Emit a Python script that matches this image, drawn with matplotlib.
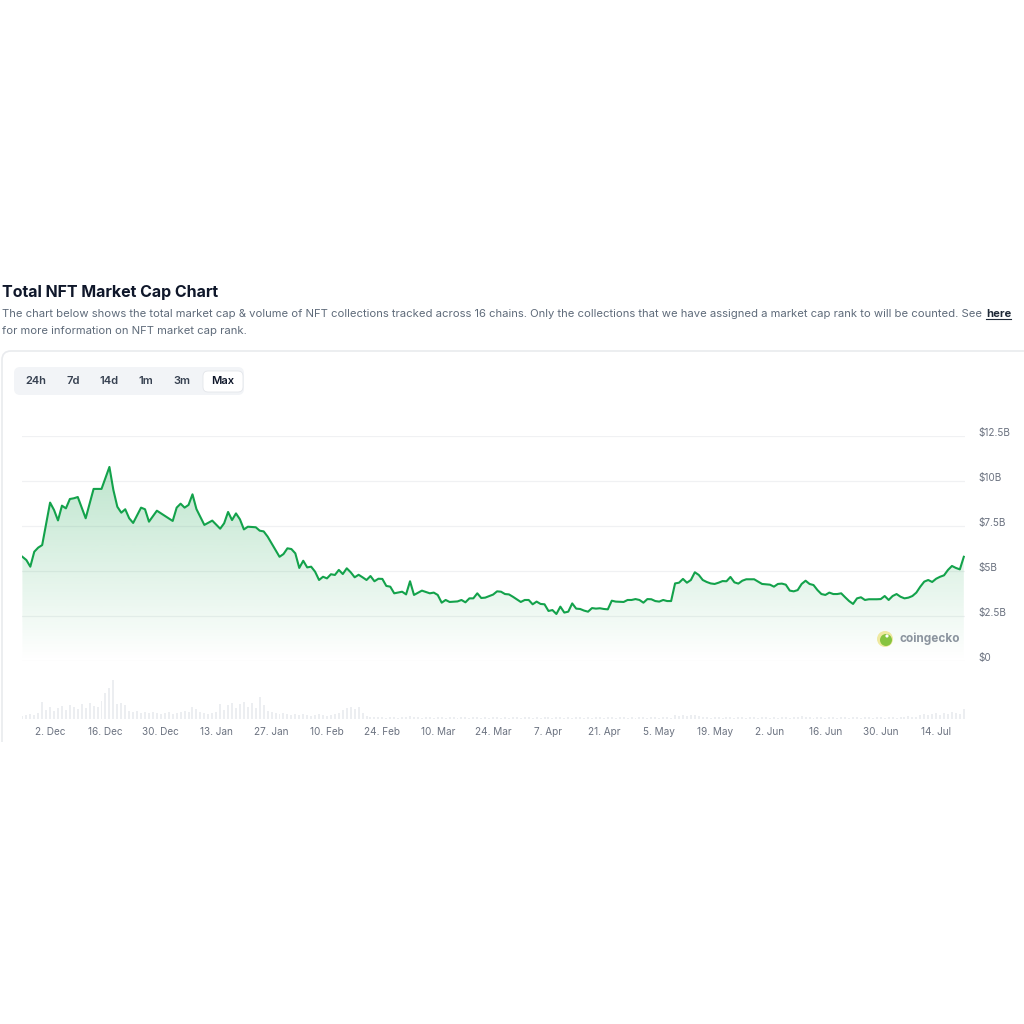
import datetime as dt
import numpy as np
import matplotlib
matplotlib.use('Agg')
import matplotlib.pyplot as plt
import matplotlib.dates as mdates
from matplotlib.patches import FancyBboxPatch, Circle, PathPatch
from matplotlib.path import Path
from matplotlib.lines import Line2D
from matplotlib.colors import to_rgb

plt.rcParams['font.family'] = ['Inter', 'DejaVu Sans']

# --- data (market cap in $B, volume in arbitrary units) ---
start_date = dt.date(2024, 11, 25)

line_day = [0, 1, 2, 3, 4, 5, 7, 8, 9, 10,
            11, 12, 13, 14, 16, 18, 20, 22, 23, 24,
            25, 26, 27, 28, 30, 31, 32, 34, 38, 39,
            40, 41, 42, 43, 44, 46, 48, 50, 51, 52,
            53, 54, 55, 56, 57, 59, 60, 61, 62, 65,
            66, 67, 68, 69, 70, 71, 72, 73, 74, 75,
            76, 77, 78, 79, 80, 81, 82, 83, 84, 85,
            86, 87, 88, 89, 90, 91, 92, 93, 94, 96,
            97, 98, 99, 101, 103, 104, 105, 106, 107, 108,
            110, 111, 112, 113, 114, 115, 116, 117, 119, 120,
            121, 122, 123, 124, 126, 127, 128, 129, 130, 131,
            132, 133, 134, 135, 136, 137, 138, 139, 140, 141,
            142, 143, 144, 145, 146, 147, 148, 149, 150, 152,
            153, 154, 155, 156, 157, 158, 159, 160, 161, 162,
            163, 164, 165, 166, 167, 168, 169, 170, 171, 172,
            173, 174, 175, 176, 177, 178, 179, 180, 181, 182,
            183, 185, 186, 187, 188, 189, 190, 191, 192, 193,
            194, 195, 196, 197, 198, 199, 200, 201, 202, 203,
            204, 205, 206, 207, 208, 209, 210, 211, 212, 213,
            214, 216, 217, 218, 219, 220, 221, 222, 223, 224,
            225, 226, 227, 228, 229, 230, 231, 232, 233, 234,
            235, 236, 237, 238]

market_cap = [5.79, 5.61, 5.24, 6.07, 6.30, 6.44, 8.80, 8.39, 7.81, 8.63,
              8.48, 9.00, 9.04, 9.11, 7.93, 9.56, 9.56, 10.78, 9.50, 8.57,
              8.24, 8.43, 7.93, 7.67, 8.52, 8.43, 7.74, 8.35, 7.78, 8.52,
              8.74, 8.52, 8.67, 9.26, 8.44, 7.56, 7.80, 7.35, 7.65, 8.28,
              7.83, 8.20, 7.87, 7.31, 7.46, 7.43, 7.24, 7.20, 6.91, 5.79,
              5.94, 6.26, 6.22, 5.98, 5.17, 5.57, 5.20, 5.24, 4.96, 4.50,
              4.68, 4.59, 4.82, 4.78, 5.06, 4.83, 5.15, 4.93, 4.65, 4.79,
              4.65, 4.50, 4.72, 4.43, 4.57, 4.56, 4.17, 4.13, 3.76, 3.85,
              3.70, 4.43, 3.67, 3.91, 3.76, 3.80, 3.67, 3.24, 3.39, 3.28,
              3.31, 3.39, 3.26, 3.48, 3.48, 3.76, 3.50, 3.52, 3.69, 3.87,
              3.85, 3.72, 3.70, 3.57, 3.28, 3.39, 3.39, 3.15, 3.30, 3.17,
              3.15, 2.78, 2.83, 2.61, 3.02, 2.69, 2.74, 3.20, 2.91, 2.89,
              2.80, 2.74, 2.94, 2.91, 2.93, 2.89, 2.87, 3.35, 3.30, 3.28,
              3.39, 3.39, 3.44, 3.39, 3.24, 3.44, 3.43, 3.33, 3.30, 3.39,
              3.33, 3.33, 4.31, 4.35, 4.56, 4.35, 4.50, 4.93, 4.78, 4.50,
              4.39, 4.31, 4.28, 4.35, 4.44, 4.43, 4.67, 4.37, 4.30, 4.46,
              4.54, 4.54, 4.41, 4.28, 4.26, 4.24, 4.13, 4.28, 4.30, 4.24,
              3.91, 3.87, 3.94, 4.28, 4.46, 4.28, 4.22, 3.94, 3.72, 3.67,
              3.80, 3.72, 3.72, 3.76, 3.54, 3.33, 3.17, 3.48, 3.54, 3.39,
              3.43, 3.43, 3.44, 3.61, 3.39, 3.61, 3.72, 3.57, 3.48, 3.52,
              3.61, 3.80, 4.13, 4.41, 4.50, 4.39, 4.57, 4.68, 4.76, 5.06,
              5.28, 5.17, 5.09, 5.79]

# one bar per day from start_date
volume = [3, 4, 5, 4, 6, 17, 9, 12, 8, 11,
          13, 9, 14, 12, 10, 15, 11, 16, 13, 12,
          18, 25, 30, 38, 15, 16, 14, 8, 7, 8,
          6, 7, 6, 7, 6, 5, 6, 7, 5, 6,
          7, 8, 7, 12, 10, 7, 6, 5, 6, 7,
          15, 9, 14, 16, 11, 15, 17, 12, 16, 11,
          22, 14, 8, 7, 6, 5, 6, 5, 4, 5,
          4, 5, 4, 3, 4, 5, 4, 3, 4, 5,
          6, 9, 11, 12, 10, 12, 6, 3, 2, 2,
          2, 2, 1, 2, 2, 1, 2, 2, 3, 2,
          2, 1, 2, 2, 1, 2, 2, 1, 2, 2,
          1, 2, 2, 1, 2, 2, 1, 2, 1, 2,
          2, 1, 2, 1, 2, 2, 1, 2, 2, 1,
          2, 1, 2, 2, 1, 2, 2, 1, 2, 1,
          2, 2, 1, 2, 1, 2, 2, 1, 2, 2,
          1, 2, 2, 1, 2, 1, 2, 2, 1, 2,
          2, 1, 2, 2, 1, 4, 3, 4, 3, 4,
          4, 3, 2, 2, 1, 2, 2, 1, 2, 2,
          1, 2, 2, 1, 2, 2, 1, 2, 2, 1,
          2, 1, 2, 2, 1, 2, 2, 3, 2, 2,
          1, 2, 2, 1, 2, 2, 1, 2, 2, 1,
          2, 2, 1, 2, 2, 1, 2, 2, 1, 2,
          2, 1, 2, 2, 3, 2, 2, 4, 5, 4,
          5, 6, 4, 6, 5, 7, 6, 5, 10]

y_ticks = [0, 2.5, 5, 7.5, 10, 12.5]
y_labels = [r'\$0', r'\$2.5B', r'\$5B', r'\$7.5B', r'\$10B', r'\$12.5B']
x_tick_days = [7 + 14 * k for k in range(17)]   # 2. Dec ... 14. Jul
range_buttons = ['24h', '7d', '14d', '1m', '3m', 'Max']

title = 'Total NFT Market Cap Chart'
subtitle_1 = ('The chart below shows the total market cap & volume of NFT collections tracked '
              'across 16 chains. Only the collections that we have assigned a market cap rank '
              'to will be counted. See')
subtitle_2 = 'for more information on NFT market cap rank.'

# --- layout helpers (pixel coords -> figure fraction) ---
W = H = 1024
def fx(px): return px / W
def fy(py): return 1 - py / H

GREEN = '#13a24b'
GREY_TXT = '#6b7280'
SUB_TXT = '#5f6b7a'

fig = plt.figure(figsize=(10.24, 10.24), dpi=100)
fig.patch.set_facecolor('white')

x0 = mdates.date2num(start_date)
line_x = x0 + np.array(line_day)
vol_x = x0 + np.arange(len(volume))
xlim = (x0 - 0.1, x0 + 238.3)

# card border (top + left with rounded corner)
card = Path([(fx(2), fy(742)), (fx(2), fy(360)), (fx(2), fy(351)), (fx(11), fy(351)), (fx(1030), fy(351))],
            [Path.MOVETO, Path.LINETO, Path.CURVE3, Path.CURVE3, Path.LINETO])
fig.add_artist(PathPatch(card, transform=fig.transFigure, fill=False, ec='#e9ebee', lw=1.2))

# titles
fig.text(fx(2), fy(292), title, fontsize=11.5, weight='bold', color='#0f172a', va='center')
t1 = fig.text(fx(2), fy(314), subtitle_1, fontsize=8.1, color=SUB_TXT, va='center')
fig.text(fx(2), fy(331), subtitle_2, fontsize=8.1, color=SUB_TXT, va='center')
renderer = fig.canvas.get_renderer()
bb = t1.get_window_extent(renderer)
here = fig.text((bb.x1 + 4) / W, fy(314), 'here', fontsize=8.1, weight='bold', color='#1f2937', va='center')
hb = here.get_window_extent(renderer)
fig.add_artist(Line2D([hb.x0 / W, hb.x1 / W], [(hb.y0 + 0.5) / H] * 2, color='#1f2937', lw=0.8))

# range buttons
fig.add_artist(FancyBboxPatch((fx(14), fy(395)), 230 / W, 28 / H, boxstyle='round,pad=0,rounding_size=0.006',
                              transform=fig.transFigure, fc='#f2f4f7', ec='none'))
fig.add_artist(FancyBboxPatch((fx(203), fy(392)), 40 / W, 21 / H, boxstyle='round,pad=0,rounding_size=0.005',
                              transform=fig.transFigure, fc='white', ec='#e3e6ea', lw=0.6))
for lab, cx in zip(range_buttons, [36, 73, 109, 146, 182, 223]):
    fig.text(fx(cx), fy(381), lab, ha='center', va='center', fontsize=8, weight='semibold',
             color='#0f172a' if lab == 'Max' else '#374151')

# main market cap axes
ax = fig.add_axes([fx(22), fy(661), 943 / W, 225 / H])
ax.set_xlim(*xlim)
ax.set_ylim(0, 12.5)

grad = np.zeros((256, 1, 4))
grad[:, :, :3] = to_rgb(GREEN)
grad[:, 0, 3] = np.linspace(0.32, 0.0, 256)
im = ax.imshow(grad, extent=[xlim[0], xlim[1], 0, 12.5], aspect='auto', origin='upper', zorder=1)
poly = ax.fill_between(line_x, market_cap, 0, color='none', lw=0)
im.set_clip_path(poly.get_paths()[0], transform=ax.transData)
ax.plot(line_x, market_cap, color=GREEN, lw=1.5, zorder=3, solid_joinstyle='round')

ax.set_yticks(y_ticks)
ax.set_yticklabels(y_labels)
ax.yaxis.tick_right()
ax.tick_params(axis='y', length=0, pad=9.5, labelsize=7.2, labelcolor=GREY_TXT)
for t in ax.get_yticklabels():
    t.set_va('baseline')
ax.set_xticks([])
ax.grid(axis='y', color='#f0f1f3', lw=0.9)
ax.set_axisbelow(True)
for s in ax.spines.values():
    s.set_visible(False)
ax.set_facecolor('none')

# coingecko watermark
fig.add_artist(Circle((fx(885), fy(639)), 8 / W, transform=fig.transFigure, fc='#eee9a0', ec='none'))
fig.add_artist(Circle((fx(886), fy(640)), 6 / W, transform=fig.transFigure, fc='#86c440', ec='none'))
fig.add_artist(Circle((fx(887), fy(636)), 1.6 / W, transform=fig.transFigure, fc='white', ec='none'))
fig.text(fx(900), fy(639), 'coingecko', fontsize=8.5, weight='bold', color='#8b949e', va='center')

# volume axes
axv = fig.add_axes([fx(22), fy(719), 943 / W, 45 / H])
axv.bar(vol_x, volume, width=0.5, color='#eceef1', lw=0)
axv.set_xlim(*xlim)
axv.set_ylim(0, 44)
tick_dates = [start_date + dt.timedelta(days=d) for d in x_tick_days]
axv.set_xticks([x0 + d for d in x_tick_days])
axv.set_xticklabels([f"{d.day}. {d.strftime('%b')}" for d in tick_dates])
axv.tick_params(axis='x', length=0, pad=6, labelsize=7.2, labelcolor=GREY_TXT)
axv.set_yticks([])
for s in axv.spines.values():
    s.set_visible(False)
axv.set_facecolor('none')

fig.savefig('out.png', dpi=100, facecolor='white')
